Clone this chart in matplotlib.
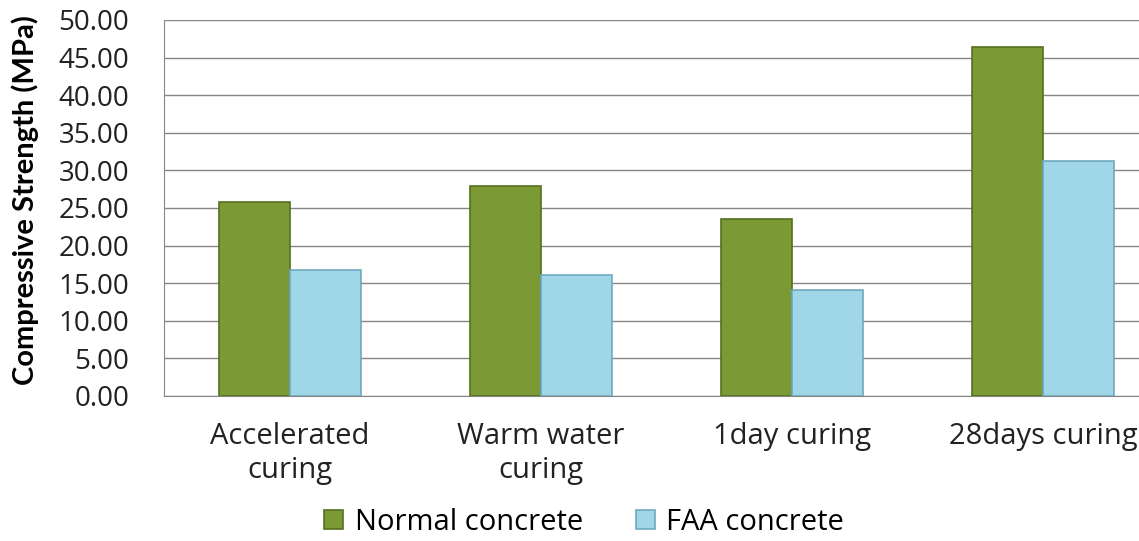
import numpy as np
import matplotlib.pyplot as plt

categories = ['Accelerated\ncuring', 'Warm water\ncuring', '1day curing', '28days curing']
normal = [25.8, 27.9, 23.5, 46.4]
faa = [16.7, 16.1, 14.1, 31.3]

plt.rcParams['font.family'] = ['Open Sans', 'DejaVu Sans']

fig = plt.figure(figsize=(11.39, 5.41), dpi=100)
# plot area runs past the right edge of the picture, like the source
ax = fig.add_axes([164 / 1139, 1 - 396 / 541, 1005 / 1139, 376 / 541])

x = np.arange(len(categories))
w = 0.283
ax.bar(x - w / 2, normal, w, color='#7b9a36', edgecolor='#55701f', linewidth=1.2,
       label='Normal concrete', zorder=3)
ax.bar(x + w / 2, faa, w, color='#9fd6e8', edgecolor='#6fa9bd', linewidth=1.2,
       label='FAA concrete', zorder=3)

ax.set_xlim(-0.5, 3.5)
ax.set_ylim(0, 50)
ax.set_yticks(np.arange(0, 50.1, 5))
ax.set_yticklabels([f'{v:.2f}' for v in np.arange(0, 50.1, 5)])
ax.yaxis.grid(True, color='#868686', linewidth=1)
ax.set_axisbelow(True)
for s in ['top', 'right']:
    ax.spines[s].set_visible(False)
ax.spines['left'].set_color('#868686')
ax.spines['bottom'].set_color('#868686')
ax.tick_params(axis='y', length=0, pad=25, labelsize=20, labelcolor='#222222')
ax.tick_params(axis='x', length=0, pad=19, labelsize=21, labelcolor='#222222')
ax.set_xticks(x)
ax.set_xticklabels(categories, linespacing=1.2)

fig.text(0.022, 1 - 200 / 541, 'Compressive Strength (MPa)', rotation=90,
         ha='center', va='center', fontsize=21, fontweight='bold', family='Lato')

fig.legend(loc='center', bbox_to_anchor=(0.513, 1 - 522 / 541), ncol=2, frameon=False,
           fontsize=21, handlelength=0.65, handleheight=0.65, columnspacing=1.8,
           handletextpad=0.4)

fig.savefig('out.png', dpi=100)
